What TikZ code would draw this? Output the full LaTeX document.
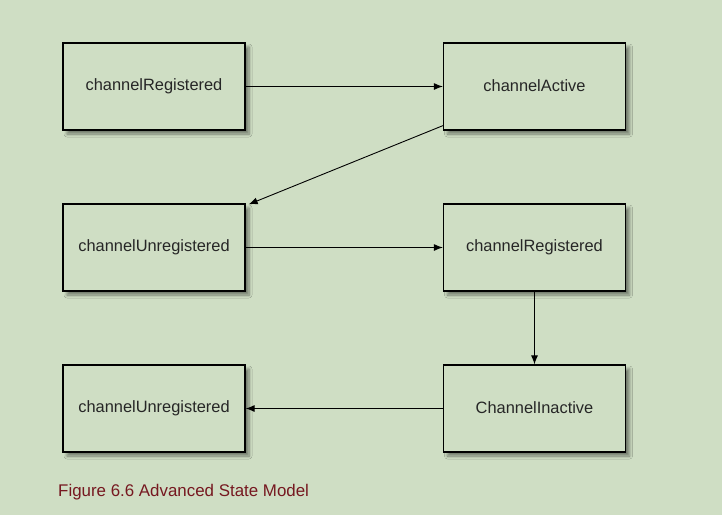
\documentclass[tikz,border=0pt]{standalone}
\usepackage{fontspec}
\setmainfont{Liberation Sans}
\usetikzlibrary{arrows.meta,shadows.blur}
\definecolor{bg}{HTML}{CFDEC4}
\definecolor{cap}{HTML}{761820}
\begin{document}
\begin{tikzpicture}[x=1pt,y=-1pt,
  state/.style={draw=black,line width=1.3pt,fill=bg,minimum width=182pt,minimum height=87pt,
    inner sep=0pt,text=black!85,font=\fontsize{16.4}{18}\selectfont,
    blur shadow={shadow xshift=4pt,shadow yshift=-4pt,shadow blur steps=6,shadow blur radius=3pt,shadow opacity=45}},
  lbl/.style={yshift=2pt},
  conn/.style={line width=0.9pt,-{Latex[length=9pt,width=7pt]}}]
\fill[bg] (0,0) rectangle (722,515);
\useasboundingbox (0,0) rectangle (722,515);
\node[state] (a) at (154,86.5) {\raisebox{2pt}{channelRegistered}};
\node[state] (b) at (534.5,86.5) {\raisebox{2pt}{channelActive}};
\node[state] (c) at (154,247.5) {\raisebox{2pt}{channelUnregistered}};
\node[state] (d) at (534.5,247.5) {\raisebox{2pt}{channelRegistered}};
\node[state] (e) at (534.5,408.5) {\raisebox{2pt}{ChannelInactive}};
\node[state] (f) at (154,408.5) {\raisebox{2pt}{channelUnregistered}};
\draw[conn] (a.east) -- (b.west);
\draw[conn] ([yshift=5pt]b.south west) -- ([xshift=3pt,yshift=-1pt]c.north east);
\draw[conn] (c.east) -- (d.west);
\draw[conn] (d.south) -- (e.north);
\draw[conn] (e.west) -- (f.east);
\node[anchor=base west,inner sep=0pt,text=cap,font=\fontsize{16.9}{20}\selectfont] (capt) at (58,496) {Figure 6.6 Advanced State Model};
\end{tikzpicture}
\end{document}
